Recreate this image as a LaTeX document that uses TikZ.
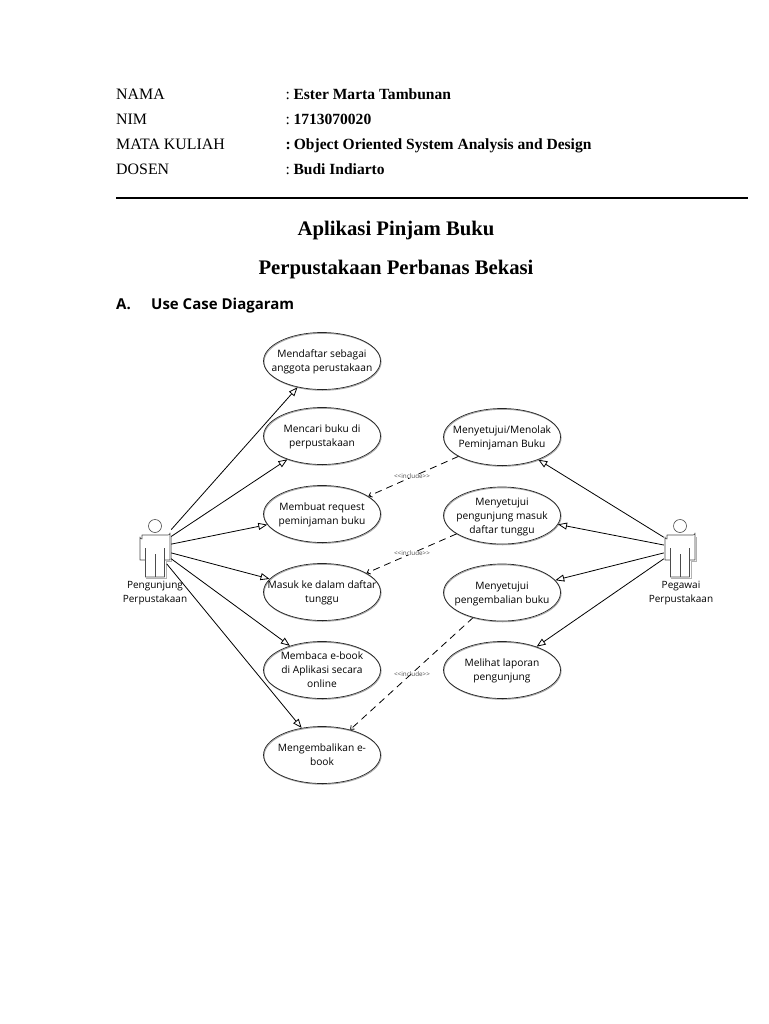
\documentclass[tikz,border=0pt]{standalone}
\usepackage{fontspec}
\setmainfont{Liberation Serif}
\newfontfamily\ucfont{Open Sans}
\usetikzlibrary{arrows.meta,shapes.geometric}
\newcommand{\uct}[1]{\makebox[0pt][c]{\smash{\raisebox{-3.2pt}{\begin{tabular}{@{}c@{}}#1\end{tabular}}}}}
\tikzset{
  hdr/.style={anchor=base west,inner sep=0pt,font=\fontsize{15.9}{18}\selectfont},
  val/.style={anchor=base west,inner sep=0pt,font=\fontsize{15.55}{18}\selectfont},
  ttl/.style={anchor=base,inner sep=0pt,font=\fontsize{20.7}{24}\selectfont\bfseries},
  sec/.style={anchor=base west,inner sep=0pt,font=\ucfont\bfseries\fontsize{15}{18}\selectfont},
  uc/.style={draw=black!85,line width=.7pt,ellipse,minimum width=117pt,minimum height=57pt,inner sep=0pt,font=\ucfont\fontsize{10.2}{14}\selectfont,
    preaction={draw=black!35,line width=.9pt,transform canvas={shift={(.6pt,-.8pt)}}}},
  gen/.style={draw=black,line width=.8pt,-{Triangle[open,fill=white,length=9pt,width=7pt]}},
  inc/.style={draw=black,line width=.8pt,dash pattern=on 7pt off 5pt,-{Straight Barb[length=3pt,width=5pt]}},
  inclab/.style={inner sep=0pt,font=\ucfont\fontsize{6.3}{7}\selectfont,text=black!70},
  actorbody/.style={draw=black!70,line width=.6pt,fill=white,line join=round},
  actorname/.style={inner sep=0pt,align=center,font=\ucfont\fontsize{10}{14}\selectfont},
  box/.style={inner sep=0pt,minimum width=32pt,minimum height=60pt}
}
\newcommand{\actorshape}[2]{%
  \begin{scope}[shift={(#1,#2)}]
    \draw[draw=black!30,line width=1pt] (16,-8) -- (16,16) -- (11,16) -- (11,33) -- (-9,33);
    \draw[actorbody] (0,-19) circle (6.5);
    \draw[actorbody] (-13,-10) -- (13,-10) arc (90:0:2) -- (15,15) -- (9.5,15) -- (9.5,32) -- (-9.5,32) -- (-9.5,15) -- (-15,15) -- (-15,-8) arc (180:90:2) -- cycle;
    \draw[actorbody] (-9.5,3) -- (-9.5,15) (9.5,3) -- (9.5,15) (0,9) -- (0,32);
  \end{scope}}
\begin{document}
\begin{tikzpicture}[x=1pt,y=-1pt]
\useasboundingbox (0,0) rectangle (768,1024);
\fill[white] (0,0) rectangle (768,1024);
\node[hdr] (h1) at (116,100) {NAMA};
\node[hdr] (h2) at (116,125) {NIM};
\node[hdr] (h3) at (116,150) {MATA KULIAH};
\node[hdr] (h4) at (116,175) {DOSEN};
\node[val] (v1) at (285.5,100) {:\kern3.5pt\textbf{Ester Marta Tambunan}};
\node[val] (v2) at (285.5,125) {:\kern3.5pt\textbf{1713070020}};
\node[val] (v3) at (285.5,150) {\textbf{:\kern3pt Object Oriented System Analysis and Design}};
\node[val] (v4) at (285.5,175) {:\kern3.5pt\textbf{Budi Indiarto}};
\coordinate (ra) at (116,198);
\coordinate (rb) at (748,198);
\draw[line width=2pt] (ra) -- (rb);
\node[ttl] (t1) at (396,236) {Aplikasi Pinjam Buku};
\node[ttl] (t2) at (396,274) {Perpustakaan Perbanas Bekasi};
\node[sec] (a) at (116,309) {A.};
\node[sec] (s) at (151,309) {Use Case Diagaram};

\node[uc] (l1) at (322,361) {\uct{Mendaftar sebagai\\anggota perustakaan}};
\node[uc] (l2) at (322,436) {\uct{Mencari buku di\\perpustakaan}};
\node[uc] (l3) at (322,514) {\uct{Membuat request\\peminjaman buku}};
\node[uc] (l4) at (322,592) {\uct{Masuk ke dalam daftar\\tunggu}};
\node[uc] (l5) at (322,670) {\uct{Membaca e-book\\di Aplikasi secara\\online}};
\node[uc] (l6) at (322,755) {\uct{Mengembalikan e-\\book}};
\node[uc] (r1) at (502,437) {\uct{Menyetujui/Menolak\\Peminjaman Buku}};
\node[uc] (r2) at (502,515.5) {\uct{Menyetujui\\pengunjung masuk\\daftar tunggu}};
\node[uc] (r3) at (502,592.5) {\uct{Menyetujui\\pengembalian buku}};
\node[uc] (r4) at (502,670) {\uct{Melihat laporan\\pengunjung}};

\node[box] (pa) at (155,547) {};
\node[box] (pb) at (680,547) {};
\actorshape{155}{545}
\actorshape{680}{545}
\node[actorname] (pan) at (155,593.5) {Pengunjung\\Perpustakaan};
\node[actorname] (pbn) at (681,593.5) {Pegawai\\Perpustakaan};

\draw[gen] (pa.47) -- (l1.227);
\draw[gen] (pa.33.8) -- (l2.214);
\draw[gen] (pa.10.6) -- (l3.191.5);
\draw[gen] (pa.-20.6) -- (l4.166);
\draw[gen] (pa.-36.9) -- (l5.143);
\draw[gen,shorten <=-7pt] (pa.-54.5) -- (l6.127.6);
\draw[gen] (pb.149) -- (r1.-32.6);
\draw[gen] (pb.173) -- (r2.-9.8);
\draw[gen] (pb.200.6) -- (r3.13.8);
\draw[gen] (pb.216.9) -- (r4.34);
\draw[inc] (r1.204.4) -- (l3.21);
\draw[inc] (r2.202.8) -- (l4.23.4);
\draw[inc] (r3.221) -- (l6.42.8);
\node[inclab,fill=white] (i1) at (412,476) {<<include>>};
\node[inclab,fill=white] (i2) at (412,553) {<<include>>};
\node[inclab] (i3) at (412,674.5) {<<include>>};
\end{tikzpicture}
\end{document}
